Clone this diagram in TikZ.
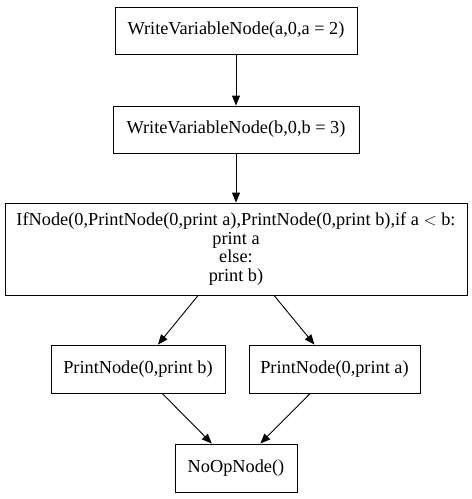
\documentclass[tikz,border=0pt]{standalone}
\usepackage{fontspec}
\setmainfont{Liberation Serif}
\usetikzlibrary{arrows.meta}

\begin{document}
\begin{tikzpicture}[x=1pt, y=-1pt,
    every node/.style={font=\fontsize{18.3}{18.8}\selectfont},
    opbox/.style={draw, line width=0.9pt, inner sep=0pt, align=center},
    flow/.style={-{Triangle[length=10pt, width=8pt]}, line width=0.9pt}]
        \useasboundingbox (0,0) rectangle (472,499);
        \node[opbox, minimum width=242pt, minimum height=47pt] (wa) at (236,30.5) {WriteVariableNode(a,0,a = 2)};
        \node[opbox, minimum width=246pt, minimum height=47pt] (wb) at (236,129.5) {WriteVariableNode(b,0,b = 3)};
        \node[opbox, minimum width=462pt, minimum height=92pt] (if) at (236,249) {IfNode(0,PrintNode(0,print a),PrintNode(0,print b),if a $<$ b:\\print a\\else:\\print b)};
        \node[opbox, minimum width=174pt, minimum height=48pt] (pb) at (138,369) {PrintNode(0,print b)};
        \node[opbox, minimum width=171pt, minimum height=48pt] (pa) at (334.5,369) {PrintNode(0,print a)};
        \node[opbox, minimum width=122pt, minimum height=48pt] (noop) at (236,468) {NoOpNode()};
        \draw[flow] (wa) -- (wb);
        \draw[flow] (wb) -- (if);
        \draw[flow] (if) -- (pb);
        \draw[flow] (if) -- (pa);
        \draw[flow] (pb) -- (noop);
        \draw[flow] (pa) -- (noop);
      \end{tikzpicture}
\end{document}
